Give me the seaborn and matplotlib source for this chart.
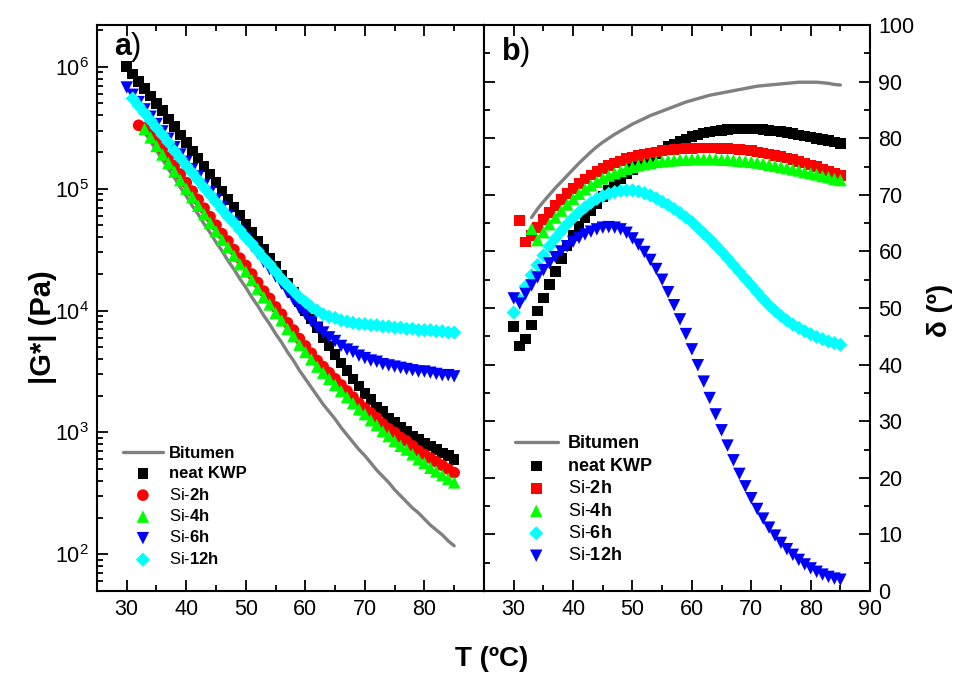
import numpy as np
import matplotlib
matplotlib.use("Agg")
import matplotlib.pyplot as plt
import seaborn as sns
from matplotlib.ticker import MultipleLocator, LogLocator, NullFormatter, FixedLocator, FixedFormatter

nan = float("nan")

# Test temperatures (ºC), shared by every series
temps = [30, 31, 32, 33, 34, 35, 36, 37, 38, 39,
         40, 41, 42, 43, 44, 45, 46, 47, 48, 49,
         50, 51, 52, 53, 54, 55, 56, 57, 58, 59,
         60, 61, 62, 63, 64, 65, 66, 67, 68, 69,
         70, 71, 72, 73, 74, 75, 76, 77, 78, 79,
         80, 81, 82, 83, 84, 85]

# ---- a) complex modulus, stored as log10(|G*| / Pa) ----
log_g_bitumen = [nan, nan, nan, 5.46, 5.39, 5.31, 5.24, 5.16, 5.09, 5.01,
                 4.94, 4.86, 4.79, 4.71, 4.64, 4.56, 4.49, 4.41, 4.34, 4.26,
                 4.19, 4.11, 4.04, 3.96, 3.89, 3.81, 3.74, 3.66, 3.59, 3.51,
                 3.44, 3.37, 3.30, 3.23, 3.17, 3.11, 3.04, 2.98, 2.92, 2.86,
                 2.81, 2.75, 2.69, 2.64, 2.59, 2.53, 2.48, 2.43, 2.38, 2.34,
                 2.29, 2.24, 2.20, 2.16, 2.11, 2.07]
log_g_neat = [6.00, 5.94, 5.88, 5.82, 5.76, 5.70, 5.64, 5.57, 5.51, 5.44,
              5.38, 5.31, 5.25, 5.18, 5.12, 5.05, 4.98, 4.91, 4.85, 4.78,
              4.71, 4.64, 4.57, 4.50, 4.43, 4.36, 4.29, 4.22, 4.15, 4.07,
              4.00, 3.93, 3.86, 3.78, 3.71, 3.64, 3.57, 3.51, 3.44, 3.38,
              3.32, 3.27, 3.21, 3.17, 3.12, 3.08, 3.04, 3.01, 2.97, 2.94,
              2.91, 2.89, 2.86, 2.83, 2.81, 2.78]
log_g_si2 = [nan, nan, 5.52, 5.50, 5.47, 5.40, 5.33, 5.26, 5.19, 5.12,
             5.05, 4.98, 4.91, 4.84, 4.77, 4.70, 4.63, 4.57, 4.50, 4.43,
             4.37, 4.30, 4.23, 4.16, 4.10, 4.03, 3.97, 3.90, 3.84, 3.77,
             3.71, 3.65, 3.59, 3.54, 3.49, 3.44, 3.39, 3.34, 3.29, 3.24,
             3.20, 3.16, 3.12, 3.07, 3.03, 3.00, 2.96, 2.93, 2.89, 2.85,
             2.82, 2.79, 2.76, 2.73, 2.70, 2.67]
log_g_si4 = [nan, nan, nan, 5.49, 5.42, 5.35, 5.28, 5.21, 5.14, 5.07,
             5.00, 4.93, 4.86, 4.79, 4.72, 4.65, 4.58, 4.52, 4.45, 4.38,
             4.32, 4.25, 4.18, 4.11, 4.05, 3.98, 3.92, 3.85, 3.79, 3.72,
             3.66, 3.60, 3.54, 3.49, 3.44, 3.39, 3.34, 3.29, 3.24, 3.19,
             3.15, 3.10, 3.06, 3.01, 2.97, 2.93, 2.89, 2.86, 2.82, 2.78,
             2.75, 2.71, 2.68, 2.65, 2.62, 2.59]
log_g_si6 = [5.83, 5.77, 5.71, 5.65, 5.59, 5.53, 5.47, 5.41, 5.34, 5.28,
             5.22, 5.16, 5.10, 5.03, 4.97, 4.91, 4.85, 4.78, 4.72, 4.65,
             4.59, 4.53, 4.47, 4.40, 4.34, 4.28, 4.22, 4.15, 4.09, 4.02,
             3.97, 3.91, 3.86, 3.82, 3.78, 3.75, 3.71, 3.68, 3.66, 3.63,
             3.61, 3.59, 3.58, 3.56, 3.55, 3.54, 3.53, 3.52, 3.51, 3.50,
             3.50, 3.49, 3.48, 3.47, 3.47, 3.46]
log_g_si12 = [nan, 5.74, 5.68, 5.62, 5.56, 5.50, 5.44, 5.38, 5.31, 5.25,
              5.19, 5.13, 5.07, 5.01, 4.95, 4.89, 4.83, 4.77, 4.72, 4.66,
              4.60, 4.55, 4.49, 4.43, 4.38, 4.32, 4.26, 4.21, 4.16, 4.11,
              4.07, 4.03, 4.00, 3.97, 3.95, 3.94, 3.92, 3.91, 3.90, 3.89,
              3.89, 3.88, 3.88, 3.87, 3.87, 3.86, 3.86, 3.85, 3.85, 3.84,
              3.84, 3.84, 3.83, 3.83, 3.82, 3.82]

# ---- b) phase angle, degrees ----
delta_bitumen = [nan, nan, nan, 66.0, 67.5, 68.8, 70.0, 71.2, 72.3, 73.4,
                 74.5, 75.6, 76.6, 77.6, 78.5, 79.3, 80.0, 80.7, 81.3, 81.9,
                 82.5, 83.0, 83.5, 84.0, 84.4, 84.8, 85.2, 85.6, 86.0, 86.4,
                 86.7, 87.0, 87.3, 87.6, 87.8, 88.0, 88.2, 88.4, 88.6, 88.8,
                 89.0, 89.2, 89.3, 89.4, 89.5, 89.6, 89.7, 89.8, 89.9, 89.9,
                 89.9, 89.9, 89.8, 89.7, 89.5, 89.4]
delta_neat = [46.7, 43.3, 44.5, 47.0, 49.5, 51.8, 54.2, 56.5, 58.8, 61.0,
              62.8, 64.4, 65.9, 67.2, 68.5, 69.7, 70.8, 71.8, 72.8, 73.7,
              74.5, 75.3, 76.0, 76.7, 77.3, 77.9, 78.5, 79.0, 79.5, 79.9,
              80.3, 80.6, 80.9, 81.1, 81.3, 81.4, 81.5, 81.6, 81.6, 81.6,
              81.6, 81.6, 81.5, 81.4, 81.3, 81.2, 81.0, 80.8, 80.6, 80.4,
              80.2, 80.0, 79.8, 79.6, 79.3, 79.1]
delta_si2 = [nan, 65.5, 61.7, 62.8, 64.2, 65.6, 66.9, 68.1, 69.2, 70.2,
             71.1, 72.0, 72.8, 73.5, 74.1, 74.7, 75.2, 75.6, 76.0, 76.4,
             76.7, 77.0, 77.2, 77.4, 77.6, 77.8, 77.9, 78.0, 78.1, 78.2,
             78.2, 78.3, 78.3, 78.3, 78.3, 78.2, 78.2, 78.1, 78.0, 77.9,
             77.8, 77.6, 77.4, 77.2, 77.0, 76.8, 76.5, 76.2, 75.9, 75.6,
             75.3, 75.0, 74.6, 74.2, 73.8, 73.4]
delta_si4 = [nan, nan, nan, 64.0, 62.0, 63.4, 64.8, 66.0, 67.2, 68.3,
             69.3, 70.2, 71.0, 71.7, 72.3, 72.9, 73.4, 73.8, 74.2, 74.6,
             74.9, 75.2, 75.4, 75.6, 75.8, 75.9, 76.0, 76.1, 76.2, 76.2,
             76.3, 76.3, 76.3, 76.3, 76.3, 76.2, 76.2, 76.1, 76.0, 75.9,
             75.8, 75.7, 75.5, 75.3, 75.1, 74.9, 74.7, 74.5, 74.3, 74.0,
             73.8, 73.6, 73.3, 73.1, 72.8, 72.6]
delta_si6 = [49.2, 51.5, 53.8, 55.8, 57.6, 59.3, 60.9, 62.3, 63.6, 64.8,
             65.9, 66.9, 67.8, 68.6, 69.3, 69.8, 70.2, 70.5, 70.7, 70.8,
             70.8, 70.6, 70.3, 69.9, 69.4, 68.8, 68.2, 67.5, 66.8, 66.0,
             65.2, 64.2, 63.2, 62.2, 61.1, 60.0, 58.8, 57.6, 56.4, 55.2,
             54.0, 52.8, 51.6, 50.5, 49.5, 48.6, 47.8, 47.1, 46.5, 45.9,
             45.4, 44.9, 44.5, 44.1, 43.8, 43.5]
delta_si12 = [51.7, 50.8, 52.5, 54.0, 55.4, 56.7, 57.9, 59.0, 60.0, 60.9,
              61.7, 62.4, 63.0, 63.5, 63.9, 64.2, 64.3, 64.2, 63.9, 63.3,
              62.3, 61.2, 59.9, 58.5, 56.9, 55.0, 52.8, 50.5, 48.0, 45.4,
              42.7, 39.9, 37.0, 34.1, 31.2, 28.4, 25.7, 23.1, 20.7, 18.5,
              16.4, 14.5, 12.8, 11.2, 9.8, 8.5, 7.4, 6.4, 5.5, 4.7,
              4.0, 3.4, 2.9, 2.5, 2.2, 2.0]

x_ticks = [30, 40, 50, 60, 70, 80, 90]

sns.set_style("ticks")
plt.rcParams["font.family"] = ["Liberation Sans", "DejaVu Sans"]
plt.rcParams["mathtext.fontset"] = "custom"
plt.rcParams["mathtext.rm"] = "Liberation Sans"
plt.rcParams["mathtext.bf"] = "Liberation Sans:bold"
plt.rcParams["mathtext.it"] = "Liberation Sans:italic"
for key in ("axes.edgecolor", "xtick.color", "ytick.color", "text.color",
            "axes.labelcolor", "xtick.labelcolor", "ytick.labelcolor"):
    plt.rcParams[key] = "black"

fig = plt.figure(figsize=(9.6, 6.75), dpi=100)
ax1 = fig.add_axes([0.1010, 0.1244, 0.4031, 0.8385])
ax2 = fig.add_axes([0.5042, 0.1244, 0.4021, 0.8385])

t = np.array(temps, dtype=float)


def pascal(logs):
    return 10 ** np.array(logs, dtype=float)


GRAY = "#808080"
marker_kw = dict(edgecolor="none", linewidth=0)

# ---------------- panel a ----------------
ax1.set_yscale("log")
sns.lineplot(x=t, y=pascal(log_g_bitumen), ax=ax1, color=GRAY, lw=2.4,
             estimator=None, label="Bitumen", zorder=1)
sns.scatterplot(x=t, y=pascal(log_g_neat), ax=ax1, marker="s", color="black",
                s=58, label="neat KWP", zorder=2, **marker_kw)
sns.scatterplot(x=t, y=pascal(log_g_si2), ax=ax1, marker="o", color="#ff0000",
                s=70, label="Si-$\\mathbf{2h}$", zorder=3, **marker_kw)
sns.scatterplot(x=t, y=pascal(log_g_si4), ax=ax1, marker="^", color="#00ff00",
                s=80, label="Si-$\\mathbf{4h}$", zorder=4, **marker_kw)
sns.scatterplot(x=t, y=pascal(log_g_si6), ax=ax1, marker="v", color="#0000ff",
                s=80, label="Si-$\\mathbf{6h}$", zorder=5, **marker_kw)
sns.scatterplot(x=t, y=pascal(log_g_si12), ax=ax1, marker="D", color="#00ffff",
                s=52, label="Si-$\\mathbf{12h}$", zorder=6, **marker_kw)

ax1.set_xlim(25, 90)
ax1.set_ylim(50, 2.2e6)
ax1.yaxis.set_major_locator(LogLocator(base=10, numticks=12))
ax1.yaxis.set_minor_locator(LogLocator(base=10, subs=np.arange(2, 10), numticks=12))
ax1.yaxis.set_minor_formatter(NullFormatter())
ax1.xaxis.set_major_locator(FixedLocator(x_ticks))
ax1.xaxis.set_major_formatter(FixedFormatter(["30", "40", "50", "60", "70", "80", ""]))
ax1.tick_params(axis="y", which="both", left=True, right=False)

# ---------------- panel b ----------------
sns.lineplot(x=t, y=delta_bitumen, ax=ax2, color=GRAY, lw=2.4,
             estimator=None, label="Bitumen", zorder=1)
sns.scatterplot(x=t, y=delta_neat, ax=ax2, marker="s", color="black",
                s=58, label="neat KWP", zorder=2, **marker_kw)
sns.scatterplot(x=t, y=delta_si2, ax=ax2, marker="s", color="#ff0000",
                s=58, label="Si-$\\mathbf{2h}$", zorder=3, **marker_kw)
sns.scatterplot(x=t, y=delta_si4, ax=ax2, marker="^", color="#00ff00",
                s=80, label="Si-$\\mathbf{4h}$", zorder=4, **marker_kw)
sns.scatterplot(x=t, y=delta_si6, ax=ax2, marker="D", color="#00ffff",
                s=52, label="Si-$\\mathbf{6h}$", zorder=5, **marker_kw)
sns.scatterplot(x=t, y=delta_si12, ax=ax2, marker="v", color="#0000ff",
                s=80, label="Si-$\\mathbf{12h}$", zorder=6, **marker_kw)

ax2.set_xlim(25, 90)
ax2.set_ylim(0, 100)
ax2.xaxis.set_major_locator(FixedLocator(x_ticks))
ax2.yaxis.set_major_locator(MultipleLocator(10))
ax2.yaxis.set_minor_locator(MultipleLocator(5))
ax2.yaxis.tick_right()
ax2.tick_params(axis="y", which="both", left=True, right=True,
                labelleft=False, labelright=True)

# ---------------- shared styling ----------------
for ax in (ax1, ax2):
    ax.xaxis.set_minor_locator(MultipleLocator(5))
    ax.tick_params(which="both", direction="in", top=True, width=1.3,
                   labelsize=15.5, pad=6)
    ax.tick_params(which="major", length=8)
    ax.tick_params(which="minor", length=4.5)
    ax.set_xlabel("")
    ax.set_ylabel("")
    for sp in ax.spines.values():
        sp.set_visible(True)
        sp.set_linewidth(1.5)
        sp.set_color("black")

leg_kw = dict(loc="upper left", frameon=False, borderpad=0, borderaxespad=0,
              handlelength=2.4, bbox_transform=fig.transFigure)
leg1 = ax1.legend(bbox_to_anchor=(0.128, 0.340), fontsize=12,
                  handletextpad=0.35, labelspacing=0.33, **leg_kw)
leg2 = ax2.legend(bbox_to_anchor=(0.536, 0.355), fontsize=13,
                  handletextpad=0.55, labelspacing=0.30, **leg_kw)
for leg in (leg1, leg2):
    leg.get_texts()[0].set_fontweight("bold")
    leg.get_texts()[1].set_fontweight("bold")

# panel tags and axis titles
fig.text(128 / 960, 1 - 47 / 675, "$\\mathbf{a}$)", fontsize=22, ha="center", va="center")
fig.text(516 / 960, 1 - 52 / 675, "$\\mathbf{b}$)", fontsize=22, ha="center", va="center")
fig.text(0.512, 0.024, "T (ºC)", fontsize=20, fontweight="bold", ha="center", va="center")
fig.text(0.045, 0.515, "|G*| (Pa)", fontsize=21, fontweight="bold", rotation=90,
         ha="center", va="center")
fig.text(0.979, 0.54, "δ (º)", fontsize=20, fontweight="bold", rotation=90,
         ha="center", va="center")

fig.savefig("out.png", dpi=100, facecolor="white")
